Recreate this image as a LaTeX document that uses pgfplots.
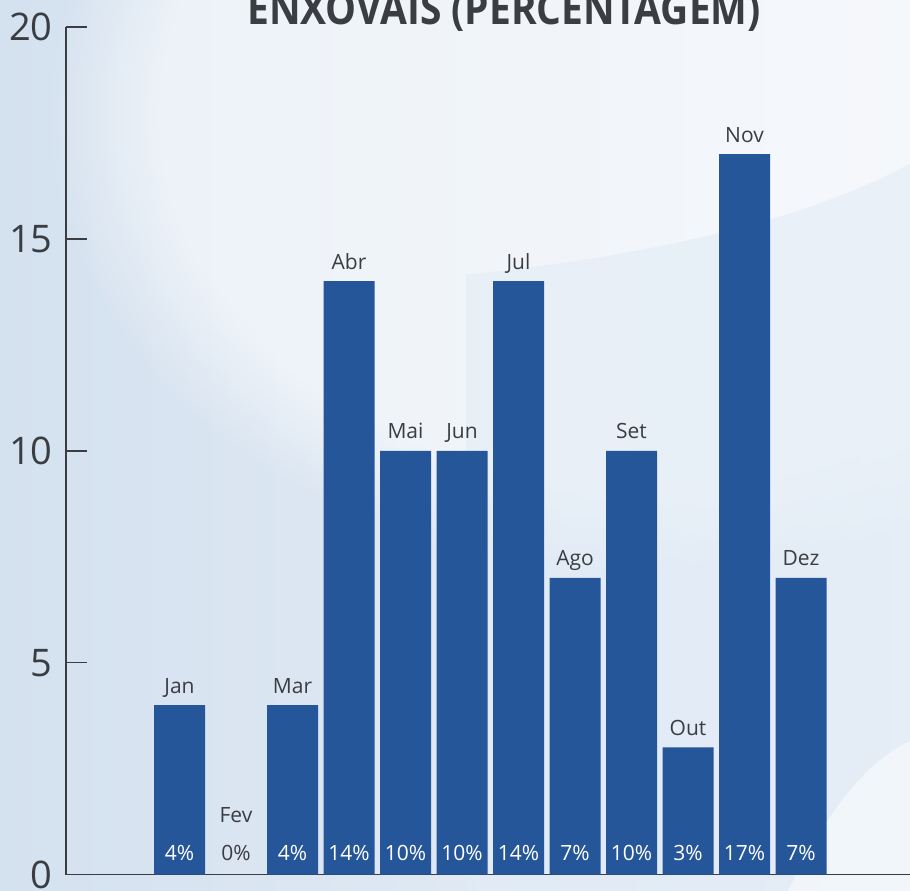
\documentclass[border=0pt]{standalone}
\usepackage{pgfplots}
\pgfplotsset{compat=1.18}
\usepackage{pgfplotstable}
\usepackage{fontspec}
\setmainfont{Open Sans}
\usetikzlibrary{fadings}
\definecolor{barblue}{RGB}{38,86,154}
\definecolor{txt}{RGB}{58,61,66}
\definecolor{bgA}{RGB}{212,225,239}
\definecolor{bgB}{RGB}{234,240,248}
\definecolor{bgC}{RGB}{226,236,246}
\pgfplotstableread{
x  y   ly     name
0  4   4.46   Jan
1  0   1.41   Fev
2  4   4.46   Mar
3  14  14.46  Abr
4  10  10.46  Mai
5  10  10.46  Jun
6  14  14.46  Jul
7  7   7.46   Ago
8  10  10.46  Set
9  3   3.46   Out
10 17  17.46  Nov
11 7   7.46   Dez
}\datatable
\pgfplotstableread{
x  py    lab
0  0.496 4\%
2  0.496 4\%
3  0.496 14\%
4  0.496 10\%
5  0.496 10\%
6  0.496 14\%
7  0.496 7\%
8  0.496 10\%
9  0.496 3\%
10 0.496 17\%
11 0.496 7\%
}\pcttable
\pgfplotstableread{
x  py    lab
1  0.496 0\%
}\pctzero
\begin{document}
\begin{tikzpicture}
\useasboundingbox (-33pt,-7.75pt) rectangle (422pt,437.25pt);
\begin{scope}
\clip (-33pt,-7.75pt) rectangle (422pt,437.25pt);
\shade[left color=bgA, right color=bgB] (-33pt,-7.75pt) rectangle (422pt,437.25pt);
\fill[white, path fading=circle with fuzzy edge 20 percent, opacity=0.55] (290pt,380pt) ellipse (300pt and 230pt);
\fill[bgC, opacity=0.6] (200pt,300pt) .. controls (300pt,310pt) and (380pt,330pt) .. (430pt,360pt) -- (430pt,-10pt) -- (200pt,-10pt) -- cycle;
\fill[white, opacity=0.5] (360pt,-10pt) .. controls (380pt,30pt) and (400pt,60pt) .. (430pt,70pt) -- (430pt,-10pt) -- cycle;
\end{scope}
\begin{axis}[
  at={(0,0)}, anchor=south west,
  scale only axis, width=422pt, height=423.75pt,
  xmin=-2.009, xmax=12.929, ymin=0, ymax=20,
  axis lines*=left,
  axis line style={txt, line width=0.8pt},
  xtick=\empty, ytick={0,5,10,15,20},
  tick align=inside, major tick length=10.5pt,
  ytick style={txt, line width=0.8pt},
  /pgf/number format/assume math mode=true,
  yticklabel style={anchor=east, inner sep=0pt, xshift=-6.5pt,
    font=\fontsize{19}{19}\selectfont, text=txt},
  clip=false,
]
\addplot[ybar, bar width=25.5pt, fill=barblue, draw=none] table[x=x, y=y] {\datatable};
\addplot[draw=none, mark=none, nodes near coords, point meta=explicit symbolic,
  nodes near coords align={center},
  every node near coord/.append style={font=\fontsize{10.5}{10.5}\selectfont, text=txt,
    inner sep=0pt, text height=7.5pt, text depth=0pt}]
  table[x=x, y=ly, meta=name] {\datatable};
\addplot[draw=none, mark=none, nodes near coords, point meta=explicit symbolic,
  nodes near coords align={center},
  every node near coord/.append style={font=\fontsize{10.5}{10.5}\selectfont, text=white,
    inner sep=0pt, text height=7.5pt, text depth=0pt}]
  table[x=x, y=py, meta=lab] {\pcttable};
\addplot[draw=none, mark=none, nodes near coords, point meta=explicit symbolic,
  nodes near coords align={center},
  every node near coord/.append style={font=\fontsize{10.5}{10.5}\selectfont, text=txt,
    inner sep=0pt, text height=7.5pt, text depth=0pt}]
  table[x=x, y=py, meta=lab] {\pctzero};
\node[anchor=base, text=txt, inner sep=0pt] at (rel axis cs:0.519,1.0024)
  {\scalebox{0.885}[1]{\fontsize{22}{22}\selectfont\bfseries ENXOVAIS (PERCENTAGEM)}};
\end{axis}
\end{tikzpicture}
\end{document}
